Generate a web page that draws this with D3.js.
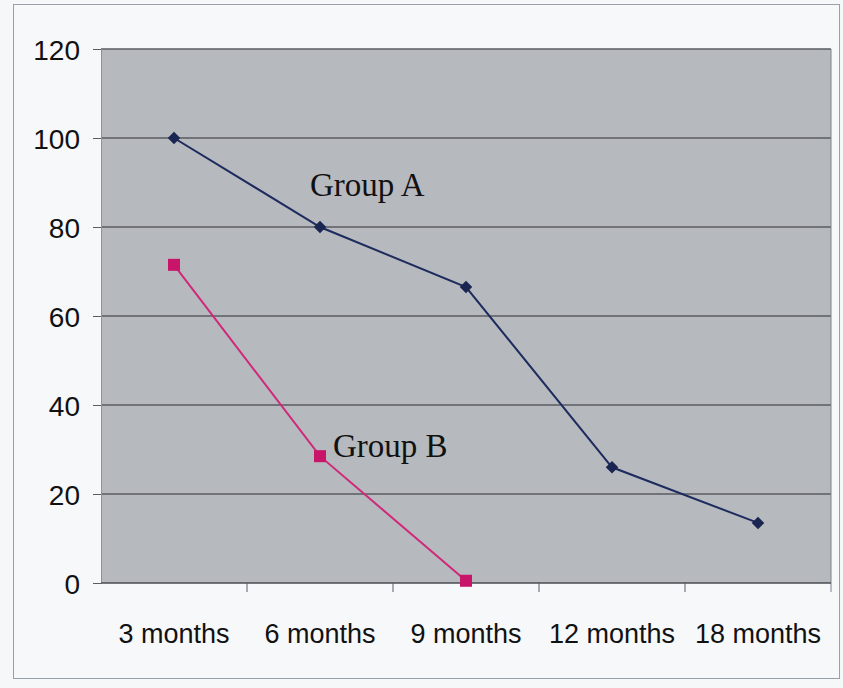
<!DOCTYPE html>
<html>
<head>
<meta charset="utf-8">
<script src="https://cdn.jsdelivr.net/npm/d3@7"></script>
<style>
  html, body { margin: 0; padding: 0; background: #f6f7f9; }
  svg { display: block; }
</style>
</head>
<body>
<svg id="chart" width="843" height="688"></svg>
<script>
// Follow-up periods and percentages for each group
const categories = ["3 months", "6 months", "9 months", "12 months", "18 months"];
const groupA = [100, 80, 66.5, 26, 13.5];
const groupB = [71.5, 28.5, 0.5];
const yTicks = [0, 20, 40, 60, 80, 100, 120];

const svg = d3.select("#chart");
const W = 843, H = 688;
const m = { left: 101, right: 12, top: 49, bottom: 105 };
const pw = W - m.left - m.right, ph = H - m.top - m.bottom;
const sans = "Liberation Sans, Arial, sans-serif";
const serif = "Liberation Serif, Times New Roman, serif";

// outer frame
svg.append("rect").attr("x", 13.5).attr("y", 4.5).attr("width", 826).attr("height", 674)
  .attr("fill", "#f7f8fa").attr("stroke", "#9aa0a8").attr("stroke-width", 1);

const g = svg.append("g").attr("transform", `translate(${m.left},${m.top})`);

const x = d3.scaleBand().domain(categories).range([0, pw]).padding(0);
const y = d3.scaleLinear().domain([0, 120]).range([ph, 0]);

// plot background
g.append("rect").attr("width", pw).attr("height", ph).attr("fill", "#b6b9bd");

// horizontal gridlines
g.append("g").selectAll("line").data(yTicks.filter(d => d > 0)).join("line")
  .attr("x1", 0).attr("x2", pw).attr("y1", d => y(d)).attr("y2", d => y(d))
  .attr("stroke", "#5a5d62").attr("stroke-width", 1.3);

// right border of plot
g.append("line").attr("x1", pw).attr("x2", pw).attr("y1", 0).attr("y2", ph + 9)
  .attr("stroke", "#7d8290").attr("stroke-width", 1);

// y axis
const yAxis = g.append("g").call(d3.axisLeft(y).tickValues(yTicks).tickSize(8).tickPadding(13));
yAxis.select(".domain").attr("stroke", "#8a90a8");
yAxis.selectAll(".tick line").attr("stroke", "#5a5d62");
yAxis.selectAll("text").attr("font-family", sans)
  .attr("font-size", 28).attr("fill", "#111").attr("dy", "0.36em");

// x axis with ticks between categories
const xAxisG = g.append("g").attr("transform", `translate(0,${ph})`);
xAxisG.append("line").attr("x1", 0).attr("x2", pw).attr("stroke", "#4a4d52").attr("stroke-width", 1.6);
xAxisG.selectAll("line.tk").data(categories.slice(1)).join("line").attr("class", "tk")
  .attr("x1", d => x(d)).attr("x2", d => x(d)).attr("y1", 0).attr("y2", 9)
  .attr("stroke", "#5a5d62");
xAxisG.selectAll("text").data(categories).join("text")
  .attr("x", d => x(d) + x.bandwidth() / 2).attr("y", 60)
  .attr("text-anchor", "middle")
  .attr("font-family", sans).attr("font-size", 27)
  .attr("fill", "#111").text(d => d);

const cx = i => x(categories[i]) + x.bandwidth() / 2;
const line = d3.line().x((d, i) => cx(i)).y(d => y(d));

// Group A
g.append("path").datum(groupA).attr("d", line).attr("fill", "none")
  .attr("stroke", "#1d2b5e").attr("stroke-width", 2);
g.selectAll("path.markA").data(groupA).join("path").attr("class", "markA")
  .attr("d", d3.symbol(d3.symbolDiamond2, 100))
  .attr("transform", (d, i) => `translate(${cx(i)},${y(d)})`)
  .attr("fill", "#1a2552");

// Group B
g.append("path").datum(groupB).attr("d", line).attr("fill", "none")
  .attr("stroke", "#d0287a").attr("stroke-width", 2);
g.selectAll("rect.markB").data(groupB).join("rect").attr("class", "markB")
  .attr("x", (d, i) => cx(i) - 6).attr("y", d => y(d) - 6)
  .attr("width", 12).attr("height", 12).attr("fill", "#c8156a");

// series labels
g.append("text").attr("x", cx(1) - 10).attr("y", y(groupA[1]) - 31)
  .attr("font-family", serif).attr("font-size", 33)
  .attr("fill", "#111").text("Group A");
g.append("text").attr("x", cx(1) + 13).attr("y", y(groupB[1]) + 1)
  .attr("font-family", serif).attr("font-size", 33)
  .attr("fill", "#111").text("Group B");
</script>
</body>
</html>
